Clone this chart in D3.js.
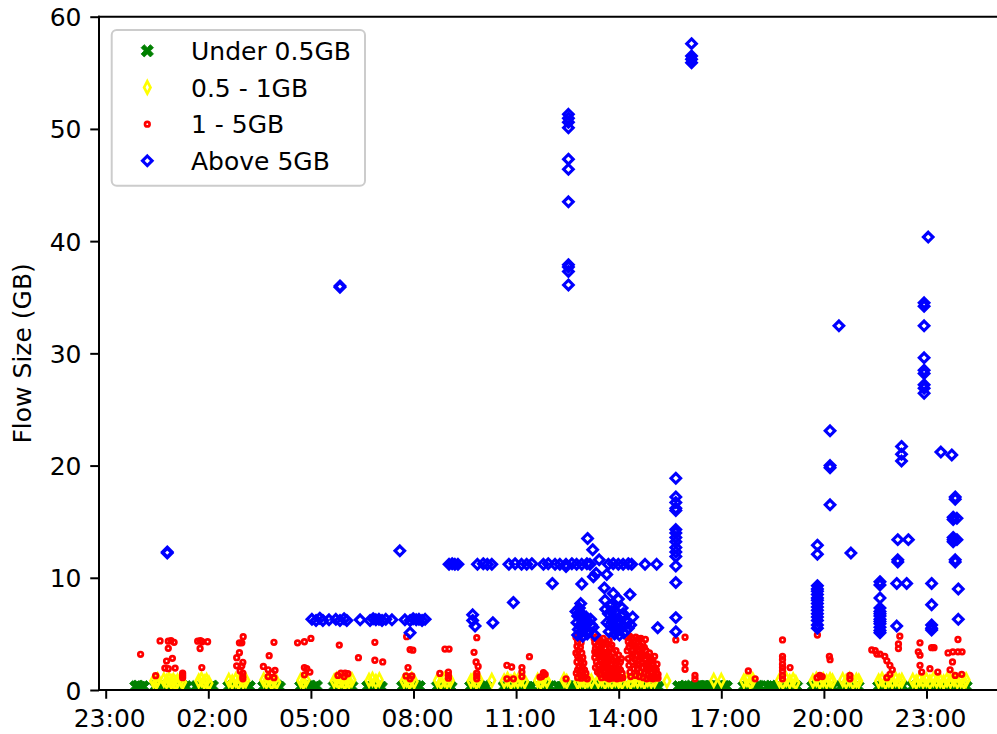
<!DOCTYPE html>
<html><head><meta charset="utf-8">
<script src="https://cdn.jsdelivr.net/npm/d3@7"></script>
<style>body{margin:0;background:#fff} svg{display:block} text{font-family:"DejaVu Sans",sans-serif}</style>
</head><body><svg id="chart" width="997" height="734"></svg>
<script>
// ---- data: [hour of day (decimal), flow size GB] ----
const seriesNames = ["Under 0.5GB", "0.5 - 1GB", "1 - 5GB", "Above 5GB"];
const xTickHours = [-1, 2, 5, 8, 11, 14, 17, 20, 23];
const yTicks = [0, 10, 20, 30, 40, 50, 60];
const yLabel = "Flow Size (GB)";

const under05 = [
 [-0.12,0.3],[-0.05,0.35],[0.02,0.25],[0.1,0.3],
 [0.45,0.3],[0.55,0.2],[0.65,0.35],[0.75,0.3],[0.85,0.25],[0.95,0.35],[1.05,0.3],[1.15,0.25],[1.25,0.35],[1.35,0.3],
 [1.65,0.3],[1.75,0.25],[1.85,0.35],[1.95,0.3],[2.05,0.25],[2.12,0.35],
 [2.6,0.3],[2.7,0.35],[2.8,0.25],[2.9,0.3],[3.0,0.35],[3.1,0.25],[3.2,0.3],
 [3.62,0.3],[3.72,0.35],[3.82,0.25],[3.92,0.3],[4.02,0.35],[4.08,0.25],
 [4.7,0.3],[4.8,0.25],[4.9,0.35],[5.0,0.3],[5.1,0.25],[5.16,0.35],
 [5.68,0.3],[5.78,0.35],[5.88,0.25],[5.98,0.3],[6.08,0.35],[6.2,0.3],
 [6.66,0.3],[6.76,0.25],[6.86,0.35],[6.96,0.3],[7.06,0.25],
 [7.68,0.3],[7.78,0.35],[7.88,0.25],[7.98,0.3],[8.08,0.35],[8.17,0.3],
 [8.7,0.3],[8.8,0.25],[8.9,0.35],[9.0,0.3],[9.1,0.25],
 [9.67,0.3],[9.77,0.35],[9.87,0.25],[9.97,0.3],[10.07,0.35],[10.13,0.3],
 [10.65,0.3],[10.75,0.25],[10.85,0.35],[10.95,0.3],[11.05,0.25],[11.15,0.35],[11.25,0.3],[11.35,0.25],[11.45,0.3],
 [11.72,0.3],[11.82,0.35],[11.92,0.25],[11.98,0.3],
 [12.22,0.3],[12.32,0.25],[12.42,0.35],[12.52,0.3],[12.62,0.25],
 [12.75,0.3],[12.85,0.35],[12.95,0.25],[13.05,0.3],[13.15,0.35],[13.25,0.3],[13.34,0.25],
 [13.47,0.3],[13.57,0.25],[13.67,0.35],[13.77,0.3],[13.87,0.25],[13.97,0.35],[14.07,0.3],
 [14.26,0.3],[14.36,0.35],[14.46,0.25],[14.56,0.3],[14.66,0.35],[14.76,0.25],[14.86,0.3],[14.96,0.35],[15.06,0.3],[15.16,0.25],
 [15.75,0.3],[15.85,0.25],[15.95,0.35],[16.05,0.3],[16.15,0.25],
 [16.25,0.3],[16.3,0.28],[16.35,0.32],[16.4,0.3],[16.45,0.27],[16.5,0.31],[16.55,0.3],[16.6,0.28],[16.65,0.32],[16.7,0.3],
 [16.75,0.29],[16.8,0.31],[16.85,0.3],[16.9,0.28],[16.95,0.32],[17.0,0.3],[17.05,0.29],[17.1,0.31],[17.15,0.3],
 [17.66,0.3],[17.76,0.35],[17.86,0.25],[17.96,0.3],[18.06,0.35],[18.12,0.3],
 [18.35,0.3],[18.45,0.35],[18.55,0.25],[18.62,0.3],
 [18.7,0.3],[18.8,0.25],[18.9,0.35],[19.0,0.3],[19.1,0.25],[19.2,0.3],
 [19.67,0.3],[19.77,0.35],[19.87,0.25],[19.97,0.3],[20.07,0.35],[20.17,0.3],[20.25,0.25],
 [20.5,0.3],[20.6,0.25],[20.7,0.35],[20.8,0.3],[20.9,0.25],[21.0,0.3],
 [21.6,0.3],[21.7,0.35],[21.8,0.25],[21.9,0.3],[22.0,0.35],[22.1,0.25],[22.2,0.3],[22.29,0.35],
 [22.6,0.3],[22.7,0.35],[22.8,0.25],[22.9,0.3],[23.0,0.35],[23.1,0.25],[23.2,0.3],[23.3,0.35],[23.4,0.25],
 [23.5,0.3],[23.6,0.35],[23.7,0.25],[23.8,0.3],[23.9,0.35],[24.0,0.25],[24.1,0.3],[24.16,0.3]
];

const half1 = [
 [0.4,0.8],[0.48,0.7],[0.52,0.9],
 [0.7,0.9],[0.78,0.75],[0.85,0.95],[0.92,0.7],[0.98,0.85],[1.05,0.6],[1.1,0.8],[1.2,0.9],[1.25,0.7],
 [1.72,0.8],[1.8,0.95],[1.88,0.7],[1.95,0.85],[2.02,0.6],
 [2.6,0.85],[2.7,0.7],[2.8,0.9],[2.88,0.65],[2.95,0.95],[3.02,0.75],[3.1,0.85],
 [3.62,0.9],[3.7,0.75],[3.78,0.95],[3.85,0.65],[3.92,0.85],[4.0,0.7],
 [4.7,0.85],[4.78,0.7],[4.86,0.9],
 [5.68,0.8],[5.75,0.95],[5.82,0.7],[5.9,0.9],[5.98,0.65],[6.05,0.85],[6.12,0.75],[6.2,0.9],
 [6.7,0.85],[6.8,0.95],[6.9,0.75],[7.0,0.9],
 [7.72,0.8],[7.8,0.9],[7.88,0.7],[7.95,0.95],[8.02,0.75],
 [8.7,0.85],[8.8,0.7],[8.9,0.95],[8.98,0.75],[9.08,0.85],
 [9.68,0.8],[9.76,0.95],[9.84,0.7],[9.92,0.9],
 [10.29,0.85],
 [10.65,0.8],[10.75,0.95],[10.85,0.7],[10.95,0.9],[11.05,0.8],[11.15,0.95],[11.25,0.75],
 [11.63,0.85],[11.72,0.7],[11.8,0.95],[11.9,0.8],
 [12.4,0.9],[12.48,0.75],
 [12.8,0.7],[12.88,0.85],[12.95,0.95],[13.02,0.75],[13.1,0.9],[13.2,0.8],
 [13.4,0.8],[13.5,0.95],[13.6,0.7],[13.7,0.9],[13.8,0.75],[13.9,0.95],[14.0,0.8],[14.1,0.7],
 [14.25,0.85],[14.35,0.7],[14.45,0.95],[14.55,0.8],[14.65,0.9],[14.75,0.7],[14.85,0.95],[14.95,0.8],[15.05,0.85],
 [15.41,0.8],
 [16.78,0.85],[17.0,0.85],
 [17.66,0.8],[17.75,0.95],[17.85,0.7],[17.92,0.9],
 [18.7,0.85],[18.8,0.7],[18.9,0.95],[19.0,0.75],[19.1,0.9],[19.18,0.65],
 [19.68,0.8],[19.78,0.95],[19.88,0.7],[19.98,0.9],[20.08,0.75],[20.18,0.9],[20.25,0.8],
 [20.55,0.9],[20.65,0.75],[20.75,0.95],[20.85,0.7],[20.95,0.85],[21.02,0.8],
 [21.6,0.8],[21.7,0.95],[21.8,0.7],[21.9,0.9],[22.0,0.75],[22.1,0.95],[22.2,0.8],[22.28,0.85],
 [22.6,0.85],[22.7,0.7],[22.8,0.95],[22.9,0.8],[23.0,0.9],[23.1,0.7],[23.2,0.95],[23.3,0.8],[23.4,0.85],
 [23.5,0.7],[23.6,0.9],[23.7,0.8],[23.8,0.95],[23.9,0.75],[24.0,0.85],[24.1,0.7],[24.16,0.9]
];

const one5 = [
 [0.02,3.18],[0.46,1.28],[0.59,4.37],[0.83,4.35],[0.91,4.4],[1.0,4.25],[0.83,3.71],[0.95,2.82],[0.78,2.58],[0.73,1.95],[0.83,1.9],[1.03,1.95],[1.25,1.1],[1.25,1.3],[1.25,1.5],
 [1.69,4.35],[1.77,4.4],[1.82,4.3],[1.98,4.3],[1.76,3.7],[1.81,2.0],
 [3.02,4.75],[2.91,4.2],[2.98,4.2],[2.91,3.33],[2.83,2.88],[3.01,2.47],[2.83,2.15],[2.98,2.15],[3.01,1.5],[3.01,1.2],[3.01,1.0],[2.93,1.7],
 [3.92,4.25],[3.78,3.06],[3.61,2.1],[3.75,1.8],[3.95,1.75],[3.75,1.2],[3.92,1.1],[3.86,1.5],
 [4.61,4.2],[4.81,4.3],[5.0,4.6],[4.81,2.0],[4.88,1.9],[4.97,1.6],[4.81,1.35],
 [5.83,4.0],[5.79,1.3],[5.88,1.5],[5.97,1.2],[6.08,1.45],[6.0,1.5],
 [6.39,2.88],[6.87,4.25],[6.87,2.65],[7.1,2.5],
 [7.8,4.75],[7.9,3.6],[7.98,3.55],[7.84,2.0],[7.78,1.25],[7.95,1.25],[7.9,1.0],
 [8.77,1.48],[8.92,3.65],[9.04,3.65],[9.02,1.6],[9.02,1.3],[9.02,1.05],
 [9.77,3.36],[9.85,4.66],[9.83,2.5],[9.89,2.1],[9.85,1.5],[9.85,1.25],[9.85,1.0],
 [10.73,2.2],[10.87,2.05],[10.73,1.0],[10.92,1.0],
 [11.17,2.0],[11.17,1.6],[11.17,1.2],[11.39,2.97],
 [11.7,1.15],[11.75,1.2],[11.8,1.55],[11.85,1.4],[12.46,1.0],
 [12.75,4.7],[12.85,4.6],[12.8,4.3],[12.9,4.2],[12.78,3.9],[12.88,3.8],[12.82,3.5],[12.92,3.3],[12.8,3.0],[12.86,2.8],
 [12.95,2.9],[12.78,2.5],[12.9,2.4],[12.84,2.1],[12.94,2.0],[12.8,1.8],[12.9,1.7],[13.0,1.8],[12.76,1.5],[12.86,1.4],
 [12.96,1.3],[13.04,1.5],[12.8,1.1],[12.9,1.05],[13.0,1.1],[13.08,1.0],[12.98,2.4],[12.75,3.3],
 [13.28,4.6],[13.35,4.75],[13.42,4.5],[13.3,4.2],[13.38,4.0],[13.45,4.3],[13.5,3.9],[13.32,3.7],[13.4,3.5],[13.48,3.6],
 [13.55,3.4],[13.6,3.7],[13.36,3.2],[13.44,3.0],[13.52,3.1],[13.6,3.0],[13.66,3.2],[13.7,2.8],[13.5,2.6],[13.58,2.5],
 [13.65,2.4],[13.72,2.6],[13.78,2.3],[13.55,2.1],[13.62,2.0],[13.7,1.9],[13.76,2.0],[13.82,1.8],[13.88,2.0],[13.6,1.6],
 [13.68,1.5],[13.75,1.4],[13.82,1.5],[13.9,1.4],[13.96,1.6],[14.02,1.2],[13.65,1.1],[13.72,1.0],[13.8,1.05],[13.88,1.1],
 [13.95,1.0],[14.05,1.05],[13.85,2.6],[13.92,2.3],[13.3,3.4],[13.56,4.1],[13.47,4.4],
 [13.3,2.9],[13.35,2.5],[13.4,2.2],[13.42,1.8],[13.45,1.4],[13.5,1.1],[13.38,1.6],[13.32,2.0],[13.45,2.7],[13.52,1.9],
 [13.58,1.3],[13.62,2.7],[13.68,3.4],[13.75,3.0],[13.8,2.7],[13.84,3.3],[13.9,2.9],[13.95,2.6],[14.0,2.2],[14.05,1.8],
 [14.1,1.5],[14.12,1.1],[13.98,1.9],[14.05,2.5],[13.75,3.8],[13.65,4.2],[13.55,4.6],[13.72,4.4],[13.8,4.0],[13.92,3.5],
 [14.0,3.1],[14.08,2.8],
 [14.25,4.7],[14.32,4.8],[14.4,4.6],[14.5,4.7],[14.58,4.55],[14.28,4.3],[14.36,4.1],[14.45,4.3],[14.55,4.2],[14.62,4.0],
 [14.3,3.8],[14.4,3.6],[14.5,3.7],[14.6,3.5],[14.68,3.7],[14.42,3.2],[14.52,3.1],[14.62,3.2],[14.7,3.0],[14.78,3.1],
 [14.48,2.7],[14.58,2.6],[14.68,2.5],[14.76,2.7],[14.84,2.4],[14.6,2.2],[14.7,2.0],[14.8,2.1],[14.88,1.9],[14.95,2.0],
 [14.65,1.6],[14.75,1.5],[14.85,1.4],[14.95,1.5],[15.02,1.3],[15.1,1.5],[14.72,1.1],[14.82,1.0],[14.92,1.05],[15.0,1.0],
 [15.08,1.1],[15.15,1.05],[14.9,2.6],[15.0,2.3],[14.55,1.9],
 [14.25,3.5],[14.28,2.8],[14.3,2.2],[14.33,1.6],[14.35,1.2],[14.4,2.5],[14.45,1.9],[14.5,1.3],[14.38,3.0],[14.45,3.9],
 [14.55,2.3],[14.6,1.2],[14.65,2.9],[14.7,4.2],[14.75,3.8],[14.8,3.5],[14.85,3.0],[14.9,3.3],[14.95,2.8],[15.0,2.6],
 [15.05,2.0],[15.1,1.8],[15.15,1.4],[15.05,3.0],[14.78,4.5],[14.65,4.6],[14.85,2.0],[15.12,2.3],
 [15.67,4.46],[15.94,4.7],[15.94,2.4],[15.94,1.85],[16.23,1.3],[16.23,1.0],
 [17.79,1.7],[17.99,1.0],
 [18.79,4.46],[18.79,3.0],[18.79,2.7],[18.79,2.3],[18.79,2.0],[18.79,1.7],[18.79,1.3],[18.79,1.0],[19.01,2.0],
 [19.81,4.9],[19.8,1.1],[19.88,1.3],[19.95,1.2],[20.16,3.0],[20.18,2.7],[20.76,1.3],[20.76,1.0],
 [21.4,3.57],[21.5,3.5],[21.55,3.2],[21.64,3.2],[21.78,3.0],[21.84,2.6],[21.93,2.2],[22.0,1.8],[21.93,1.4],[21.84,1.1],
 [22.22,4.8],[22.18,4.1],[22.18,3.7],
 [22.81,4.2],[22.76,3.4],[22.81,3.1],[23.15,3.77],[23.22,3.77],[22.81,2.2],[22.86,1.6],[23.1,1.9],[23.33,1.6],
 [23.63,3.3],[23.77,3.4],[23.92,4.5],[23.92,3.4],[24.04,3.4],[23.76,2.5],[23.69,1.8],[23.84,1.3],[24.03,1.4]
];

const above5 = [
 [0.80,12.2],[0.80,12.3],
 [5.85,35.9],[5.85,36.0],
 [5.03,6.3],[5.15,6.2],[5.26,6.4],[5.35,6.2],[5.53,6.25],[5.73,6.3],[5.85,6.2],[5.97,6.35],[6.05,6.2],
 [6.44,6.25],[6.73,6.2],[6.82,6.35],[6.9,6.25],[6.99,6.3],[7.08,6.2],[7.19,6.3],[7.37,6.25],[7.75,6.25],
 [7.9,6.2],[7.99,6.35],[8.08,6.25],[8.16,6.3],[8.25,6.2],[8.34,6.3],
 [7.9,5.1],[7.6,12.4],
 [9.73,6.7],[9.73,6.2],[9.8,5.7],[10.32,6.0],[10.92,7.8],
 [9.04,11.2],[9.13,11.25],[9.21,11.2],[9.3,11.2],
 [9.87,11.2],[10.04,11.25],[10.16,11.2],[10.29,11.2],
 [10.79,11.2],[10.97,11.25],[11.16,11.2],[11.31,11.2],[11.46,11.25],
 [11.8,11.2],[11.94,11.25],[12.14,11.2],[12.28,11.2],
 [12.46,11.2],[12.46,11.0],[12.63,11.25],[12.77,11.2],[12.92,11.2],[13.07,11.25],[13.16,11.2],
 [13.7,11.2],[13.84,11.25],[13.99,11.2],[14.13,11.2],[14.28,11.25],[14.38,11.2],
 [14.77,11.2],[15.11,11.2],
 [12.06,9.5],[12.92,9.45],
 [12.53,51.3],[12.53,50.95],[12.53,50.6],[12.53,50.1],[12.53,47.3],[12.53,46.4],[12.53,43.5],
 [12.53,37.9],[12.53,37.7],[12.53,37.3],[12.53,36.1],
 [13.09,13.5],[13.24,12.5],[13.43,11.6],[13.34,10.4],[13.26,10.1],[13.65,10.3],[13.58,9.1],
 [13.84,8.6],[14.33,8.5],[13.6,8.0],[13.99,8.1],[13.74,7.5],[14.13,6.8],[14.41,6.5],[12.89,7.7],
 [12.75,7.0],[12.8,6.6],[12.85,6.9],[12.9,6.4],[12.95,6.7],[13.0,6.2],[12.78,6.0],[12.88,5.8],[12.98,5.9],[13.05,6.5],
 [13.1,6.0],[12.82,5.4],[12.92,5.2],[13.02,5.5],[13.12,5.3],[13.2,5.8],[12.8,4.9],[12.95,4.8],[13.08,5.0],[13.18,6.3],
 [13.25,5.6],[13.3,4.9],[12.85,7.3],
 [13.62,7.2],[13.7,6.8],[13.78,7.0],[13.85,6.5],[13.92,6.9],[14.0,6.2],[14.08,6.6],[13.66,6.0],[13.75,5.8],[13.82,6.1],
 [13.9,5.6],[13.98,5.9],[14.05,5.4],[14.12,5.8],[14.2,6.2],[14.28,5.5],[13.72,5.2],[13.88,5.0],[13.95,5.3],[14.02,4.9],
 [14.15,5.1],[14.25,6.0],[14.35,5.8],[14.1,7.3],[13.8,7.6],
 [15.14,5.55],
 [15.67,18.87],[15.67,17.2],[15.67,16.7],[15.67,16.2],[15.67,16.0],[15.67,14.3],[15.67,14.0],[15.67,13.6],[15.67,13.2],
 [15.67,12.7],[15.67,12.3],[15.67,11.9],[15.67,11.05],[15.67,9.57],[15.67,6.45],[15.67,5.2],
 [16.13,57.6],[16.13,56.5],[16.13,56.2],[16.13,55.9],
 [19.81,12.9],[19.81,12.1],[19.81,9.3],[19.81,9.0],[19.81,8.8],[19.81,8.5],[19.81,8.2],[19.81,8.0],[19.81,7.7],
 [19.81,7.4],[19.81,7.1],[19.81,6.8],[19.81,6.5],[19.81,6.2],[19.81,5.8],[19.81,5.5],
 [20.18,23.1],[20.18,20.0],[20.18,19.8],[20.18,16.5],
 [20.44,32.45],[20.79,12.2],
 [21.64,9.65],[21.64,9.35],[21.64,8.2],[21.64,7.3],[21.64,7.0],[21.64,6.8],[21.64,6.6],[21.64,6.3],[21.64,6.1],
 [21.64,5.9],[21.64,5.6],[21.64,5.3],[21.64,5.1],
 [22.16,13.4],[22.16,11.4],[22.16,11.6],[22.47,13.4],[22.13,9.5],[22.42,9.5],[22.13,5.7],
 [22.27,21.7],[22.27,21.0],[22.27,20.4],
 [22.93,34.5],[22.93,34.2],[22.93,32.45],[22.93,29.6],[22.93,28.5],[22.93,28.2],[22.93,27.2],[22.93,26.9],[22.93,26.45],
 [23.05,40.36],
 [23.42,21.2],[23.74,20.95],
 [23.15,9.5],[23.15,7.6],[23.15,5.8],[23.15,5.5],[23.15,5.35],
 [23.84,17.2],[23.84,17.0],[23.78,15.2],[23.78,15.4],[23.89,15.3],[23.78,13.4],[23.78,13.6],[23.78,13.2],[23.89,13.4],
 [23.84,11.4],[23.84,11.6],[23.93,9.0],[23.93,6.3]
];

// ---- drawing ----
const svg = d3.select("#chart");
const W = 997, H = 734;
const plot = {left: 99, right: 999, top: 16.7, bottom: 690};

const x = d3.scaleLinear().domain([-1.196, 25.12]).range([plot.left, plot.right]);
const y = d3.scaleLinear().domain([0, 60]).range([plot.bottom, plot.top]);

svg.append("rect").attr("width", W).attr("height", H).attr("fill", "#fff");

svg.append("defs").append("clipPath").attr("id", "clip")
  .append("rect").attr("x", plot.left).attr("y", plot.top)
  .attr("width", plot.right - plot.left).attr("height", plot.bottom - plot.top);

const markers = [
  {data: under05, path: d3.symbol().type(d3.symbolCross).size(95)(), rot: 45, fill: "#008000", stroke: "#008000", sw: 0.8},
  {data: half1, path: "M0,-6.2L3.2,0L0,6.2L-3.2,0Z", rot: 0, fill: "none", stroke: "#ffff00", sw: 2.7},
  {data: one5, path: d3.symbol().type(d3.symbolCircle).size(Math.PI * 2.3 * 2.3)(), rot: 0, fill: "none", stroke: "#ff0000", sw: 2.7},
  {data: above5, path: "M0,-4.8L4.8,0L0,4.8L-4.8,0Z", rot: 0, fill: "none", stroke: "#0000ff", sw: 3.1}
];

const gData = svg.append("g").attr("clip-path", "url(#clip)");
markers.forEach(m => {
  gData.append("g").selectAll("path").data(m.data).join("path")
    .attr("d", m.path)
    .attr("transform", d => `translate(${x(d[0])},${y(d[1])}) rotate(${m.rot})`)
    .attr("fill", m.fill).attr("stroke", m.stroke).attr("stroke-width", m.sw);
});

// axes
const pad2 = n => (n < 10 ? "0" : "") + n;
const xAxis = d3.axisBottom(x).tickValues(xTickHours).tickSize(8.75).tickPadding(8.75)
  .tickFormat(h => pad2(((h % 24) + 24) % 24) + ":00");
const gx = svg.append("g").attr("transform", `translate(0,${plot.bottom})`).call(xAxis);
gx.select(".domain").remove();
gx.selectAll("line").attr("stroke", "#000").attr("stroke-width", 2);
gx.selectAll("text").attr("font-size", 25).attr("fill", "#000").attr("dy", "0.78em").attr("dx", 3.5)
  .attr("font-family", "DejaVu Sans");

const yAxis = d3.axisLeft(y).tickValues(yTicks).tickSize(8.75).tickPadding(8.75);
const gy = svg.append("g").attr("transform", `translate(${plot.left},0)`).call(yAxis);
gy.select(".domain").remove();
gy.selectAll("line").attr("stroke", "#000").attr("stroke-width", 2);
gy.selectAll("text").attr("font-size", 25).attr("fill", "#000").attr("dy", "0.36em")
  .attr("font-family", "DejaVu Sans");

// spines
const sp = svg.append("g").attr("stroke", "#000").attr("stroke-width", 2).attr("stroke-linecap", "square");
sp.append("line").attr("x1", plot.left).attr("x2", plot.left).attr("y1", plot.top).attr("y2", plot.bottom);
sp.append("line").attr("x1", plot.left).attr("x2", plot.right).attr("y1", plot.bottom).attr("y2", plot.bottom);
sp.append("line").attr("x1", plot.left).attr("x2", plot.right).attr("y1", plot.top).attr("y2", plot.top);
sp.append("line").attr("x1", plot.right).attr("x2", plot.right).attr("y1", plot.top).attr("y2", plot.bottom);

// y label
svg.append("text").attr("transform", `translate(31,${(plot.top + plot.bottom) / 2}) rotate(-90)`)
  .attr("text-anchor", "middle").attr("font-size", 25).attr("fill", "#000").text(yLabel);

// legend
const lg = svg.append("g");
lg.append("rect").attr("x", 111.7).attr("y", 30).attr("width", 253.3).attr("height", 155.7).attr("rx", 5)
  .attr("fill", "#fff").attr("fill-opacity", 0.8).attr("stroke", "#cccccc").attr("stroke-width", 2);
seriesNames.forEach((name, i) => {
  const by = 60 + i * 36.67;
  const m = markers[i];
  lg.append("path").attr("d", m.path)
    .attr("transform", `translate(147.3,${by - 9.2}) rotate(${m.rot})`)
    .attr("fill", m.fill).attr("stroke", m.stroke).attr("stroke-width", m.sw);
  lg.append("text").attr("x", 191).attr("y", by).attr("font-size", 25).attr("fill", "#000").text(name);
});
</script></body></html>
